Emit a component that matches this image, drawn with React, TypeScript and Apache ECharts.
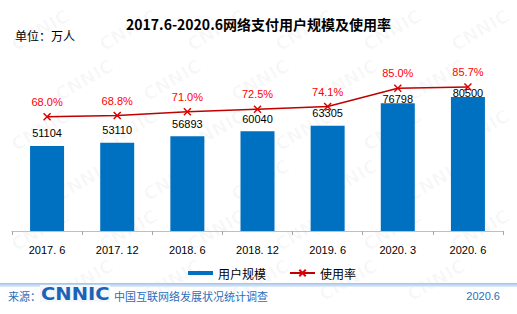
import React, { useEffect, useRef } from "react";
import * as echarts from "echarts";

const categories = ["2017. 6", "2017. 12", "2018. 6", "2018. 12", "2019. 6", "2020. 3", "2020. 6"];
const userScale = [51104, 53110, 56893, 60040, 63305, 76798, 80500];
const usageRate = [68.0, 68.8, 71.0, 72.5, 74.1, 85.0, 85.7];
const titleText = "2017.6-2020.6网络支付用户规模及使用率";
const unitText = "单位：万人";
const legendNames = ["用户规模", "使用率"];
const sourceLabel = "来源：";
const sourceName = "中国互联网络发展状况统计调查";
const dateText = "2020.6";

const CJK = '"Noto Sans CJK SC", "Microsoft YaHei", sans-serif';
const LAT = '"Liberation Sans", Arial, sans-serif';
const X_PATH = "path://M0,0L10,10M10,0L0,10";

export default function App() {
  const ref = useRef<HTMLDivElement>(null);
  useEffect(() => {
    if (!ref.current) return;
    const chart = echarts.init(ref.current, null, { renderer: "svg" });

    const watermarks: any[] = [];
    for (let row = 0; row < 6; row++) {
      for (let col = 0; col < 6; col++) {
        const x = 40 + col * 88 + (row % 2 === 0 ? 0 : 44);
        const y = 30 + row * 50;
        if (x > 480 || y > 280) continue;
        watermarks.push({
          type: "text",
          x,
          y,
          rotation: Math.PI / 6,
          z: -10,
          silent: true,
          style: {
            text: "CNNIC",
            fill: "rgba(0,0,0,0.03)",
            font: 'bold 18px "DejaVu Sans", sans-serif',
            textAlign: "center",
            textVerticalAlign: "middle",
          },
        });
      }
    }

    chart.setOption({
      animation: false,
      backgroundColor: "#ffffff",
      title: {
        text: titleText,
        left: "center",
        top: 12,
        textStyle: { fontSize: 14, fontWeight: "bold", color: "#000", fontFamily: CJK },
      },
      grid: { left: 12, right: 14, top: 63, bottom: 83 },
      legend: {
        left: 183,
        top: 262,
        itemWidth: 25,
        itemHeight: 8,
        itemGap: 23,
        textStyle: { fontSize: 12, color: "#000", fontFamily: CJK },
        data: [
          { name: legendNames[0], icon: "path://M0,0h25v4h-25z" },
          { name: legendNames[1] },
        ],
      },
      xAxis: {
        type: "category",
        data: categories,
        axisLine: { lineStyle: { color: "#bfbfbf", width: 1 } },
        axisTick: { show: true, length: 4, lineStyle: { color: "#a6a6a6" } },
        axisLabel: { color: "#000", fontSize: 11, fontFamily: LAT, margin: 13 },
      },
      yAxis: [
        { type: "value", min: 0, max: 101000, show: false, splitLine: { show: false } },
        { type: "value", min: 0, max: 100, show: false, splitLine: { show: false } },
      ],
      series: [
        {
          name: legendNames[0],
          type: "bar",
          barWidth: 34,
          z: 2,
          itemStyle: { color: "#0070c0" },
          data: userScale.map((v, i) => ({
            value: v,
            label: { distance: i >= 5 ? -1 : 7 },
          })),
          label: {
            show: true,
            position: "top",
            color: "#000",
            fontSize: 11,
            fontFamily: LAT,
          },
        },
        {
          name: legendNames[1],
          type: "line",
          yAxisIndex: 1,
          z: 3,
          data: usageRate,
          symbol: X_PATH,
          symbolSize: 7,
          lineStyle: { color: "#c00000", width: 1.5 },
          itemStyle: { color: "#e00000", borderColor: "#e00000", borderWidth: 1.5 },
          label: {
            show: true,
            position: "top",
            distance: 5,
            color: "#ff0000",
            fontSize: 11,
            fontFamily: LAT,
            formatter: (p: any) => p.value.toFixed(1) + "%",
          },
        },
      ],
      graphic: [
        ...watermarks,
        {
          type: "text",
          left: 15,
          top: 29,
          style: { text: unitText, fill: "#000", font: `12px ${CJK}` },
        },
        {
          type: "rect",
          shape: { x: 0, y: 283, width: 517, height: 4 },
          silent: true,
          style: {
            fill: new echarts.graphic.LinearGradient(0, 0, 0, 1, [
              { offset: 0, color: "#9fc2ea" },
              { offset: 1, color: "#e4eefa" },
            ]),
          },
        },
        {
          type: "rect",
          shape: { x: 40, y: 285, width: 70, height: 17 },
          style: { fill: "#f4f8fd" },
        },
        {
          type: "text",
          x: 8,
          y: 296,
          style: { text: sourceLabel, fill: "#2a6ebb", font: `11px ${CJK}`, textVerticalAlign: "middle" },
        },
        {
          type: "text",
          x: 41,
          y: 294,
          scaleX: 1.15,
          style: {
            text: "CNNIC",
            fill: "#1b63b4",
            font: 'bold 17px "DejaVu Sans", sans-serif',
            textVerticalAlign: "middle",
          },
        },
        {
          type: "text",
          x: 114,
          y: 296,
          style: { text: sourceName, fill: "#2a6ebb", font: `11px ${CJK}`, textVerticalAlign: "middle" },
        },
        {
          type: "text",
          x: 500,
          y: 296,
          style: { text: dateText, fill: "#2a6ebb", font: `11px ${LAT}`, textAlign: "right", textVerticalAlign: "middle" },
        },
      ],
    });
    return () => chart.dispose();
  }, []);
  return (
    <div
      ref={ref}
      style={{ position: "fixed", left: 0, top: 0, width: 517, height: 314 }}
    />
  );
}
